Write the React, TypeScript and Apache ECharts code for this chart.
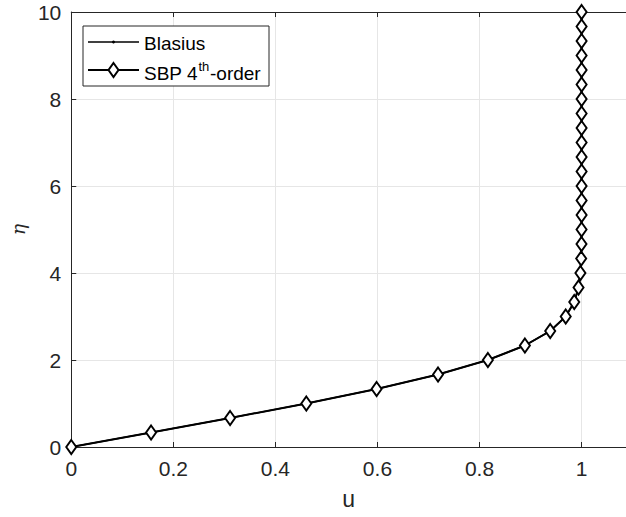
import React, { useEffect, useRef } from "react";
import * as echarts from "echarts";

const etaValues: number[] = [
  0, 0.3333, 0.6667, 1, 1.3333, 1.6667, 2, 2.3333, 2.6667, 3, 3.3333, 3.6667, 4, 4.3333, 4.6667,
  5, 5.3333, 5.6667, 6, 6.3333, 6.6667, 7, 7.3333, 7.6667, 8, 8.3333, 8.6667, 9, 9.3333, 9.6667, 10,
];
const blasiusU: number[] = [
  0, 0.1564, 0.3112, 0.4606, 0.5983, 0.7187, 0.8164, 0.8889, 0.9385, 0.9689, 0.9856, 0.994, 0.9977,
  0.9992, 0.9998, 0.9999, 1, 1, 1, 1, 1, 1, 1, 1, 1, 1, 1, 1, 1, 1, 1,
];
const sbpU: number[] = [
  0, 0.1564, 0.3112, 0.4606, 0.5983, 0.7187, 0.8164, 0.8889, 0.9385, 0.9689, 0.9856, 0.994, 0.9977,
  0.9992, 0.9998, 0.9999, 1, 1, 1, 1, 1, 1, 1, 1, 1, 1, 1, 1, 1, 1, 1,
];
const xTicks: number[] = [0, 0.2, 0.4, 0.6, 0.8, 1];
const legendNames: string[] = ["Blasius", "SBP 4", "th", "-order"];

const AX = "#262626";
const FONT = "Liberation Sans, Arial, sans-serif";

export default function App() {
  const ref = useRef<HTMLDivElement>(null);
  useEffect(() => {
    if (!ref.current) return;
    const chart = echarts.init(ref.current, undefined, { renderer: "svg" });
    const xLabel = (v: number) => (xTicks.some((t) => Math.abs(t - v) < 1e-9) ? String(+v.toFixed(1)) : "");
    const tickCommon = { show: true, inside: true, length: 5, lineStyle: { color: AX } };
    chart.setOption({
      animation: false,
      backgroundColor: "#ffffff",
      grid: { left: 69, top: 12, right: 0, bottom: 70 },
      xAxis: [
        {
          type: "value",
          min: 0,
          max: 1.087,
          interval: 0.2,
          position: "bottom",
          name: "u",
          nameLocation: "middle",
          nameGap: 40,
          nameTextStyle: { fontFamily: FONT, fontSize: 23, color: AX },
          axisLine: { show: true, lineStyle: { color: AX, width: 1 } },
          axisTick: tickCommon,
          axisLabel: { fontFamily: FONT, fontSize: 21, color: AX, margin: 11, formatter: xLabel, showMaxLabel: false },
          splitLine: { show: true, lineStyle: { color: "#e6e6e6", width: 1 } },
        },
        {
          type: "value",
          min: 0,
          max: 1.087,
          interval: 0.2,
          position: "top",
          axisLine: { show: true, lineStyle: { color: AX, width: 1 } },
          axisTick: tickCommon,
          axisLabel: { show: false },
          splitLine: { show: false },
        },
      ],
      yAxis: [
        {
          type: "value",
          min: 0,
          max: 10,
          interval: 2,
          name: "η",
          nameLocation: "middle",
          nameGap: 38,
          nameRotate: 90,
          nameTextStyle: { fontFamily: "DejaVu Serif, serif", fontStyle: "italic", fontSize: 19, color: AX },
          axisLine: { show: true, lineStyle: { color: AX, width: 1 } },
          axisTick: tickCommon,
          axisLabel: { fontFamily: FONT, fontSize: 21, color: AX, margin: 10 },
          splitLine: { show: true, lineStyle: { color: "#e6e6e6", width: 1 } },
        },
      ],
      graphic: [
        {
          type: "rect",
          z: 100,
          shape: { x: 83, y: 26, width: 186, height: 60 },
          style: { fill: "#ffffff", stroke: AX, lineWidth: 1 },
        },
        {
          type: "line",
          z: 101,
          shape: { x1: 88, y1: 42, x2: 139, y2: 42 },
          style: { stroke: "#000", lineWidth: 1.5 },
        },
        { type: "circle", z: 102, shape: { cx: 113.5, cy: 42, r: 1.5 }, style: { fill: "#000" } },
        {
          type: "text",
          z: 101,
          x: 144,
          y: 43,
          style: { text: legendNames[0], fontFamily: FONT, fontSize: 19, fill: "#000", verticalAlign: "middle" },
        },
        {
          type: "line",
          z: 101,
          shape: { x1: 88, y1: 70, x2: 139, y2: 70 },
          style: { stroke: "#000", lineWidth: 2 },
        },
        {
          type: "polygon",
          z: 102,
          shape: { points: [[113.5, 63], [118.5, 70], [113.5, 77], [108.5, 70]] },
          style: { fill: "#ffffff", stroke: "#000", lineWidth: 2 },
        },
        {
          type: "text",
          z: 101,
          x: 144,
          y: 73,
          style: { text: legendNames[1], fontFamily: FONT, fontSize: 19, fill: "#000", verticalAlign: "middle" },
        },
        {
          type: "text",
          z: 101,
          x: 198.5,
          y: 66,
          style: { text: legendNames[2], fontFamily: FONT, fontSize: 13, fill: "#000", verticalAlign: "middle" },
        },
        {
          type: "text",
          z: 101,
          x: 210,
          y: 73,
          style: { text: legendNames[3], fontFamily: FONT, fontSize: 19, fill: "#000", verticalAlign: "middle" },
        },
      ],
      series: [
        {
          name: "Blasius",
          type: "line",
          data: blasiusU.map((u, i) => [u, etaValues[i]]),
          symbol: "circle",
          symbolSize: 3,
          showSymbol: true,
          itemStyle: { color: "#000" },
          lineStyle: { color: "#000", width: 1.5 },
          z: 2,
        },
        {
          name: "SBP 4th-order",
          type: "line",
          data: sbpU.map((u, i) => [u, etaValues[i]]),
          symbol: "diamond",
          symbolSize: [10, 14],
          showSymbol: true,
          itemStyle: { color: "#ffffff", borderColor: "#000", borderWidth: 2 },
          lineStyle: { color: "#000", width: 2 },
          z: 3,
        },
      ],
    });
    return () => chart.dispose();
  }, []);
  return <div ref={ref} style={{ width: 626, height: 517, position: "absolute", left: 0, top: 0 }} />;
}
